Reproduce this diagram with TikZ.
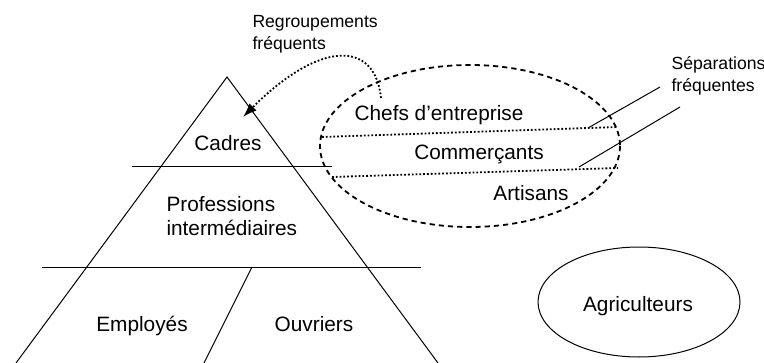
\documentclass[tikz,border=0pt]{standalone}
\usepackage{fontspec}
\setmainfont{Liberation Sans}
\usetikzlibrary{arrows.meta}

\tikzset{
  lbl/.style={inner sep=0pt, font=\fontsize{10.4}{12}\selectfont},
  note/.style={inner sep=0pt, align=left, font=\fontsize{8.8}{11}\selectfont},
  groupline/.style={line width=0.9pt, densely dotted},
}

\begin{document}
\begin{tikzpicture}[x=0.5pt, y=-0.5pt, line width=0.5pt]
    \useasboundingbox (0,0) rectangle (764,363);
    % pyramide
    \coordinate (apex) at (227,77);
    \coordinate (baseL) at (16,363);
    \coordinate (baseR) at (438,363);
    \draw (baseL) -- (apex) -- (baseR);
    \draw (132,167) -- (332,167);
    \draw (42,267) -- (421,267);
    \draw (252,267) -- (204,363);
    \node[lbl, anchor=base] (cadres) at (228,151) {Cadres};
    \node[lbl, anchor=base west, align=left] (profs) at (166,235) {Professions\\intermédiaires};
    \node[lbl, anchor=base] (employes) at (142,331) {Employés};
    \node[lbl, anchor=base] (ouvriers) at (314,331) {Ouvriers};
    % independants
    \draw[line width=0.9pt, dash pattern=on 2.6pt off 2pt] (470,146) ellipse [x radius=150, y radius=81];
    \node[lbl, anchor=base] (chefs) at (439,121) {Chefs d’entreprise};
    \node[lbl, anchor=base] (commercants) at (479,160) {Commerçants};
    \node[lbl, anchor=base] (artisans) at (531,200) {Artisans};
    \coordinate (cutAw) at (322,137);
    \coordinate (cutAe) at (618,127);
    \coordinate (cutBw) at (332,177);
    \coordinate (cutBe) at (618,168);
    \draw[groupline] (cutAw) -- (cutAe);
    \draw[groupline] (cutBw) -- (cutBe);
    % separations
    \node[note, anchor=base west] (separations) at (671,92) {Séparations\\fréquentes};
    \coordinate (sepA) at (588,128);
    \coordinate (sepB) at (579,167);
    \draw (sepA) -- (660,87);
    \draw (sepB) -- (680,107);
    % regroupements
    \node[note, anchor=base west] (regroup) at (252,50) {Regroupements\\fréquents};
    \coordinate (regStart) at (381,98);
    \coordinate (regEnd) at (243,117);
    \draw[groupline, -{Latex[length=7pt, width=5pt]}] (regStart) .. controls (375,40) and (320,40) .. (regEnd);
    % agriculteurs
    \draw (639,302) ellipse [x radius=101, y radius=55];
    \node[lbl, anchor=base] (agri) at (638,311) {Agriculteurs};
\end{tikzpicture}
\end{document}
